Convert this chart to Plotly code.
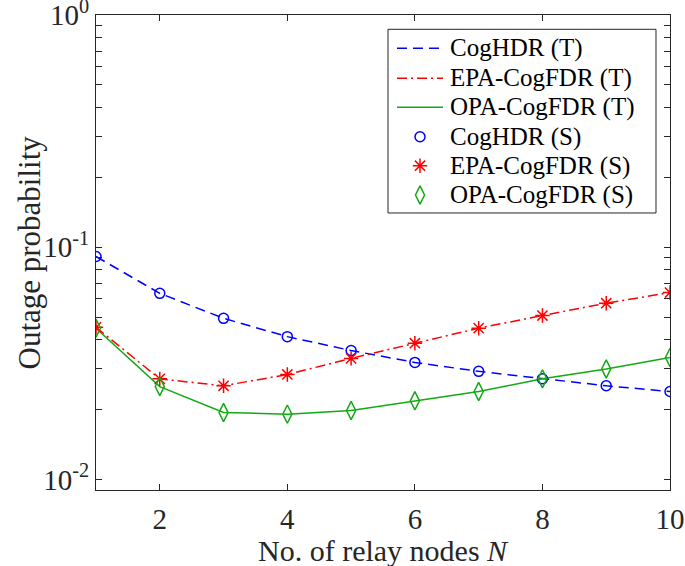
import plotly.graph_objects as go

N = [1, 2, 3, 4, 5, 6, 7, 8, 9, 10]
cog_hdr = [0.0912, 0.0633, 0.0494, 0.0412, 0.0359, 0.0319, 0.0292, 0.0271, 0.0253, 0.0239]
epa_fdr = [0.0452, 0.0271, 0.0253, 0.0283, 0.0332, 0.0386, 0.0448, 0.0508, 0.0574, 0.0638]
opa_fdr = [0.0448, 0.0251, 0.0194, 0.0191, 0.0198, 0.0218, 0.0239, 0.0271, 0.0299, 0.0335]

series_names = ["CogHDR (T)", "EPA-CogFDR (T)", "OPA-CogFDR (T)",
                "CogHDR (S)", "EPA-CogFDR (S)", "OPA-CogFDR (S)"]

x_ticks = [2, 4, 6, 8, 10]
y_ticks = [0.01, 0.1, 1]
y_ticktext = ["10<sup>-2</sup>", "10<sup>-1</sup>", "10<sup>0</sup>"]
y_minor = [0.02, 0.03, 0.04, 0.05, 0.06, 0.07, 0.08, 0.09,
           0.2, 0.3, 0.4, 0.5, 0.6, 0.7, 0.8, 0.9]

BLUE = "#0000FF"
RED = "#FF0000"
GREEN = "#12AA12"
FONT = "Liberation Serif"
AX = "#262626"

colors = [BLUE, RED, GREEN, BLUE, RED, GREEN]
dashes = ["10px,6px", "10px,4px,2px,4px", "solid"]
symbols = ["circle-open", "asterisk-open", "diamond-tall-open"]
msizes = [10, 12, 13]

fig = go.Figure()
data = [cog_hdr, epa_fdr, opa_fdr]
for i in range(3):
    fig.add_trace(go.Scatter(x=N, y=data[i], mode="lines", name=series_names[i],
                             showlegend=False,
                             line=dict(color=colors[i], width=1.5, dash=dashes[i])))
for i in range(3):
    fig.add_trace(go.Scatter(x=N, y=data[i], mode="markers", name=series_names[i + 3],
                             showlegend=False,
                             marker=dict(symbol=symbols[i], size=msizes[i], color=colors[i],
                                         line=dict(width=1.5, color=colors[i]))))

# ---- custom legend (paper-like coords on hidden overlay axes) ----
leg_x0, leg_x1, leg_y0, leg_y1 = 0.5087, 0.9756, 0.5832, 0.9699
row_y = [0.9299, 0.8667, 0.8057, 0.7438, 0.6827, 0.6211]
line_x0, line_x1, mark_x, text_x = 0.5244, 0.6045, 0.5645, 0.6132

shapes = [dict(type="rect", xref="paper", yref="paper", x0=leg_x0, x1=leg_x1,
               y0=leg_y0, y1=leg_y1, line=dict(color=AX, width=1),
               fillcolor="white", layer="below")]
for i in range(3):
    shapes.append(dict(type="line", xref="paper", yref="paper", x0=line_x0, x1=line_x1,
                       y0=row_y[i], y1=row_y[i], layer="below",
                       line=dict(color=colors[i], width=1.5, dash=dashes[i])))
for i in range(3):
    fig.add_trace(go.Scatter(x=[mark_x], y=[row_y[i + 3]], mode="markers",
                             xaxis="x2", yaxis="y2", showlegend=False, hoverinfo="skip",
                             marker=dict(symbol=symbols[i], size=msizes[i], color=colors[i],
                                         line=dict(width=1.5, color=colors[i]))))

annotations = [
    dict(text="No. of relay nodes <i>N</i>", xref="paper", yref="paper",
         x=0.5, y=-0.128, xanchor="center", yanchor="middle", showarrow=False,
         font=dict(family=FONT, size=30, color=AX)),
    dict(text="Outage probability", xref="paper", yref="paper",
         x=-0.115, y=0.5, xanchor="center", yanchor="middle", showarrow=False,
         textangle=-90, font=dict(family=FONT, size=31, color=AX)),
]
for i in range(6):
    annotations.append(dict(text=series_names[i], xref="paper", yref="paper",
                            x=text_x, y=row_y[i], xanchor="left", yanchor="middle",
                            showarrow=False, font=dict(family=FONT, size=25, color="black")))

fig.update_layout(
    width=685, height=566,
    margin=dict(l=96, r=15, t=15, b=76),
    paper_bgcolor="white", plot_bgcolor="white",
    font=dict(family=FONT, color=AX, size=28),
    showlegend=False,
    xaxis=dict(range=[1, 10], tickvals=x_ticks, ticks="inside", ticklen=6,
               tickcolor=AX, showline=True, linecolor=AX, linewidth=1,
               mirror="allticks", showgrid=False, zeroline=False, automargin=False,
               ticklabeloverflow="allow", ticklabelstandoff=3,
               tickfont=dict(family=FONT, size=29, color=AX)),
    yaxis=dict(type="log", range=[-2.0458, 0.0004], tickvals=y_ticks, ticktext=y_ticktext,
               ticks="inside", ticklen=6, tickcolor=AX,
               showline=True, linecolor=AX, linewidth=1,
               mirror="allticks", showgrid=False, zeroline=False, automargin=False,
               ticklabeloverflow="allow",
               minor=dict(tickvals=y_minor, ticks="inside", ticklen=6,
                          tickcolor=AX, showgrid=False),
               tickfont=dict(family=FONT, size=29, color=AX)),
    xaxis2=dict(overlaying="x", range=[0, 1], visible=False, fixedrange=True),
    yaxis2=dict(overlaying="y", range=[0, 1], visible=False, fixedrange=True),
    shapes=shapes,
    annotations=annotations,
)

fig.write_html("out.html", config={"displayModeBar": False},
               post_script="document.body.style.margin='0';")
